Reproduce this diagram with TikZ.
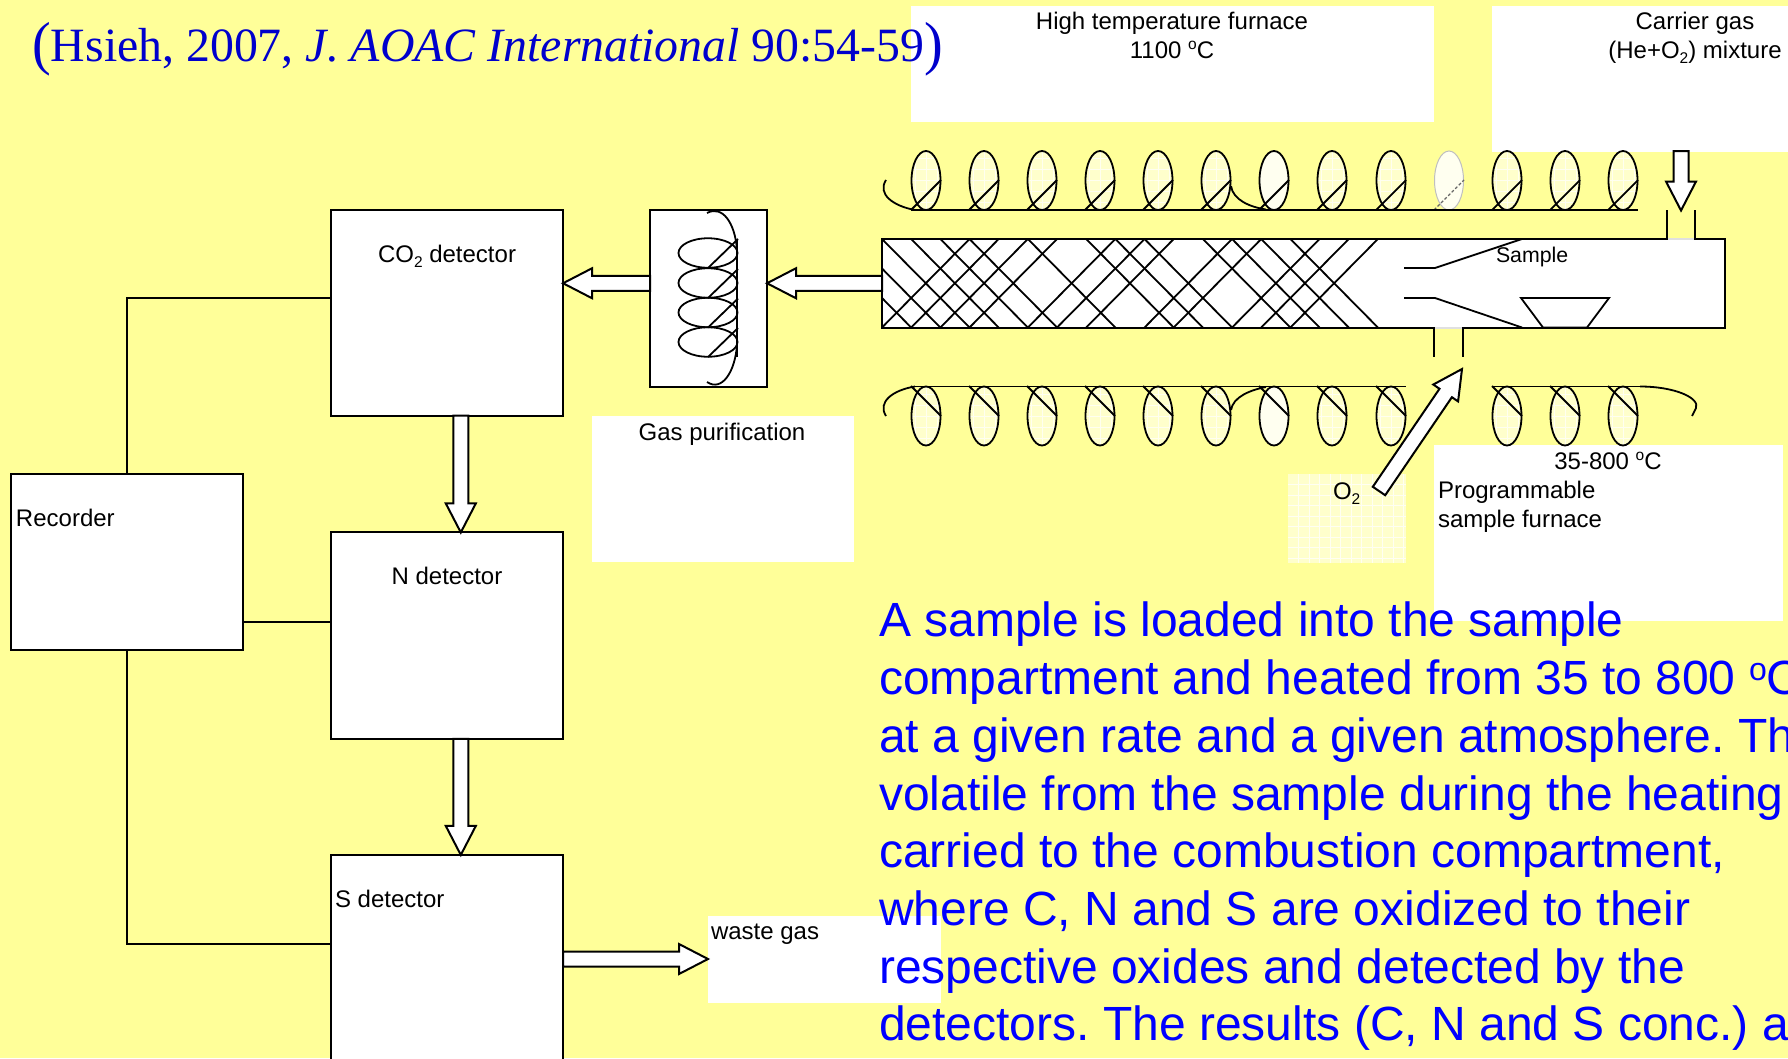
\documentclass[tikz,border=0pt]{standalone}
\usepackage{fontspec}
\setmainfont{Liberation Sans}
\newfontfamily\citefont{Liberation Serif}
\usetikzlibrary{calc,shapes.geometric}
\frenchspacing
\definecolor{pagebg}{HTML}{FFFF99}
\definecolor{paleyellow}{HTML}{FFFFCC}
\definecolor{citeblue}{HTML}{0000CC}
\newcommand{\lowtwo}{\raisebox{-5pt}{\fontsize{15.5}{15.5}\selectfont 2}}
\newcommand{\highoh}{\raisebox{9pt}{\fontsize{15.5}{15.5}\selectfont o}}
\newcommand{\tallparen}[1]{\raisebox{-2pt}{\scalebox{1.08}[1.14]{\fontsize{52}{50}\selectfont #1}}}
\newcommand{\blockarrow}[2]{%
  \coordinate (hb) at ($(#2)!29pt!(#1)$);
  \draw[blockline] ($(#1)!7.5pt!90:(#2)$) -- ($(hb)!7.5pt!-90:(#1)$) -- ($(hb)!15pt!-90:(#1)$) -- (#2)
    -- ($(hb)!15pt!90:(#1)$) -- ($(hb)!7.5pt!90:(#1)$) -- ($(#1)!7.5pt!-90:(#2)$) -- cycle;}
\tikzset{
  sheet/.style={fill=white,draw=none},
  unitbox/.style={draw=black,fill=white,line width=2pt,rectangle,inner sep=0pt,outer sep=0pt},
  wire/.style={draw=black,line width=2pt},
  thin wire/.style={draw=black,line width=1.8pt},
  blockline/.style={draw=black,fill=white,line width=2pt,line join=miter},
  label/.style={font=\fontsize{24}{28.8}\selectfont,text=black,inner sep=0pt,outer sep=0pt},
  coilloop/.style={ellipse,draw=black,line width=1.8pt,fill=#1,minimum width=29pt,minimum height=59pt,inner sep=0pt,outer sep=0pt,
    path picture={\foreach \g in {-33,-22,-11,0,11,22,33}{
      \draw[white!70!paleyellow,line width=.35pt] ($(path picture bounding box.center)+(\g,-40)$) -- ++(0,80);
      \draw[white!70!paleyellow,line width=.35pt] ($(path picture bounding box.center)+(-40,\g)$) -- ++(80,0);}}},
  coilloop/.default=paleyellow,
  flatloop/.style={ellipse,draw=black,line width=1.8pt,minimum width=59pt,minimum height=29.5pt,inner sep=0pt,outer sep=0pt},
}
\begin{document}
\begin{tikzpicture}[x=1pt,y=-1pt]
\useasboundingbox (0,0) rectangle (1788,1058);
\fill[pagebg] (0,0) rectangle (1788,1058);
% white sheets behind labels
\fill[sheet] (911,5.5) rectangle (1434,122);
\fill[sheet] (1492,5.5) rectangle (1788,152);
\fill[sheet] (592,416) rectangle (854,562);
\fill[sheet] (1434,445) rectangle (1783,621);
\fill[sheet] (708,916) rectangle (941,1003);
\fill[paleyellow] (1288,474) rectangle (1406,563);
\begin{scope}
\clip (1288,474) rectangle (1406,563);
\foreach \g in {1,...,11}{\draw[white!75!paleyellow,line width=.5pt] ({1288+\g*10.5},474) -- ++(0,89);}
\foreach \g in {1,...,8}{\draw[white!75!paleyellow,line width=.5pt] (1288,{474+\g*10.5}) -- ++(118,0);}
\end{scope}
% citation
\node[anchor=base west,inner sep=0pt,text=citeblue] (citation) at (32,61)
  {\citefont\fontsize{47.8}{50}\selectfont\tallparen{(}Hsieh, 2007, \textit{J. AOAC International} 90:54-59\tallparen{)}};
% coil loops, top row
\foreach \cx [count=\i] in {926,984,1042,1100,1158,1216,1274,1332,1391,1449,1507,1565,1623}{
  \ifnum\i=10\relax
    \node[ellipse,draw=black!25,line width=1pt,fill=white!70!paleyellow,minimum width=29pt,minimum height=59pt,inner sep=0pt] (top\i) at (\cx,180.5) {};
  \else\ifnum\i=7\relax
    \node[coilloop=white!70!paleyellow] (top\i) at (\cx,180.5) {};
  \else
    \node[coilloop] (top\i) at (\cx,180.5) {};
  \fi\fi
}
% coil loops, bottom row
\foreach \cx [count=\i] in {926,984,1042,1100,1158,1216,1274,1332,1391,1507,1565,1623}{
  \ifnum\i=7\relax
    \node[coilloop=white!70!paleyellow] (bot\i) at (\cx,416) {};
  \else
    \node[coilloop] (bot\i) at (\cx,416) {};
  \fi
}
% coil wires
\foreach \cx in {926,984,1042,1100,1158,1216,1274,1332,1391,1507,1565,1623}{
  \draw[thin wire] (\cx-15,210) -- (\cx+15,180);
  \draw[thin wire] (\cx-15,386) -- (\cx+15,416);
}
\draw[black!60,densely dashed,line width=1.1pt] (1434,210) -- (1464,180);
\draw[thin wire] (911,210) -- (1638,210);
\draw[thin wire] (911,386.5) -- (1406,386.5);
\draw[thin wire] (1492,386.5) -- (1640,386.5);
\draw[thin wire] (886,180) .. controls (877,194) and (893,206) .. (915,210);
\draw[thin wire] (886,416) .. controls (877,402) and (893,390) .. (915,386.5);
\draw[thin wire] (1231,186) .. controls (1233,200) and (1250,207) .. (1266,209.5);
\draw[thin wire] (1231,410) .. controls (1233,397) and (1250,390) .. (1266,387);
\draw[thin wire] (1640,386.5) .. controls (1675,386.5) and (1700,398) .. (1696,408) -- (1692,416);
% tube
\node[unitbox,minimum width=843pt,minimum height=88.5pt] (tube) at (1303.5,283.25) {};
\begin{scope}
\def\u{29.17}
\clip (882,239) rectangle (1725,327.5);
\foreach \k in {0,1,2,3,5,7,8,9,11,12,13,14,-1,-2}{
  \draw[thin wire] ({882+\k*\u},239) -- ({882+(\k+3)*\u},327.5);}
\foreach \k in {0,1,2,3,5,6,7,9,10,12,13,14}{
  \draw[thin wire] ({882+\k*\u},327.5) -- ({882+(\k+3)*\u},239);}
\end{scope}
\draw[thin wire] (1404,268) -- (1435,268) -- (1522,239);
\draw[thin wire] (1404,298) -- (1435,298) -- (1522,327.5);
\draw[thin wire] (1521,298) -- (1609,298) -- (1587,327.5) -- (1543,327.5) -- cycle;
% ports
\draw[black!12,line width=2pt] (1668,239) -- (1694,239);
\draw[black!12,line width=2pt] (1435,327.5) -- (1462,327.5);
\draw[thin wire] (1667,210) -- (1667,239);
\draw[thin wire] (1695,210) -- (1695,239);
\draw[thin wire] (1434,327.5) -- (1434,357);
\draw[thin wire] (1463,327.5) -- (1463,357);
% purification unit
\node[unitbox,minimum width=117pt,minimum height=177pt] (purifier) at (708.5,298.5) {};
\foreach \cy [count=\i] in {253,283,312.5,342}{
  \node[flatloop] (pl\i) at (708,\cy) {};
  \draw[thin wire] (708,\cy+15) -- (738,\cy-14);
}
\draw[thin wire] (737,240) -- (737,357);
\draw[thin wire] (707,213) .. controls (722,205) and (735,222) .. (737,250);
\draw[thin wire] (707,382) .. controls (722,392) and (735,372) .. (737,345);
% detectors and recorder
\node[unitbox,minimum width=232.5pt,minimum height=205.5pt] (co2) at (446.8,312.8) {};
\node[unitbox,minimum width=232.5pt,minimum height=206.5pt] (ndet) at (446.8,635.7) {};
\node[unitbox,minimum width=232.5pt,minimum height=206.5pt] (sdet) at (446.8,958.2) {};
\node[unitbox,minimum width=232.5pt,minimum height=176pt] (recorder) at (126.8,562) {};
\coordinate (reco) at (co2.west |- 0,298);
\coordinate (recn) at (ndet.west |- 0,621.5);
\coordinate (recn0) at (recorder.east |- 0,621.5);
\coordinate (recs) at (sdet.west |- 0,944);
\draw[wire] (recorder.north) |- (reco);
\draw[wire] (recn0) -- (recn);
\draw[wire] (recorder.south) |- (recs);
% block arrows
\coordinate (tubeout) at (tube.west);
\coordinate (purin) at (purifier.east |- tube.west);
\coordinate (purout) at (purifier.west |- tube.west);
\coordinate (co2in) at (co2.east |- tube.west);
\coordinate (co2out) at ($(co2.south)+(14,0)$);
\coordinate (nin) at ($(ndet.north)+(14,0)$);
\coordinate (nout) at ($(ndet.south)+(14,0)$);
\coordinate (sin) at ($(sdet.north)+(14,0)$);
\coordinate (sout) at (sdet.east |- 0,959);
\coordinate (waste) at (708,959);
\coordinate (carrier) at (1681,151);
\coordinate (carrierin) at (1681,210.5);
\coordinate (oxyfrom) at (1379,491);
\coordinate (oxyto) at (1462,369);
\blockarrow{tubeout}{purin}
\blockarrow{purout}{co2in}
\blockarrow{co2out}{nin}
\blockarrow{nout}{sin}
\blockarrow{sout}{waste}
\blockarrow{carrier}{carrierin}
\blockarrow{oxyfrom}{oxyto}
% labels
\node[label,anchor=base] (tfurn) at (1172,29.5) {High temperature furnace};
\node[label,anchor=base] (tfurnt) at (1172,58) {1100 \highoh C};
\node[label,anchor=base] (tcar) at (1695,29.5) {Carrier gas};
\node[label,anchor=base] (tcarm) at (1695,58) {(He+O\lowtwo) mixture};
\node[label,anchor=base west,font=\fontsize{21.3}{25}\selectfont] (tsample) at (1496,262) {Sample};
\node[label,anchor=base] (tco) at (447,262) {CO\lowtwo{} detector};
\node[label,anchor=base] (tn) at (447,584) {N detector};
\node[label,anchor=base west] (ts) at (335,907) {S detector};
\node[label,anchor=base west] (trec) at (16,526) {Recorder};
\node[label,anchor=base] (tgas) at (722,440) {Gas purification};
\node[label,anchor=base west] (twaste) at (711,939) {waste gas};
\node[label,anchor=base] (trange) at (1608,469.5) {35-800 \highoh C};
\node[label,anchor=base west] (tprog) at (1438,498) {Programmable};
\node[label,anchor=base west] (tprog2) at (1438,527) {sample furnace};
\node[label,anchor=base west] (toxy) at (1333,499) {O\lowtwo};
% body text
\node[anchor=north west,inner sep=0pt,align=left,text=blue,font=\fontsize{48}{57.7}\selectfont] (body) at (879,602)
  {A sample is loaded into the sample\\
   compartment and heated from 35 to 800 {\raisebox{14pt}{\fontsize{32}{32}\selectfont o}}C\\
   at a given rate and a given atmosphere. Th\\
   volatile from the sample during the heating\\
   carried to the combustion compartment,\\
   where C, N and S are oxidized to their\\
   respective oxides and detected by the\\
   detectors. The results (C, N and S conc.) a};
\end{tikzpicture}
\end{document}
